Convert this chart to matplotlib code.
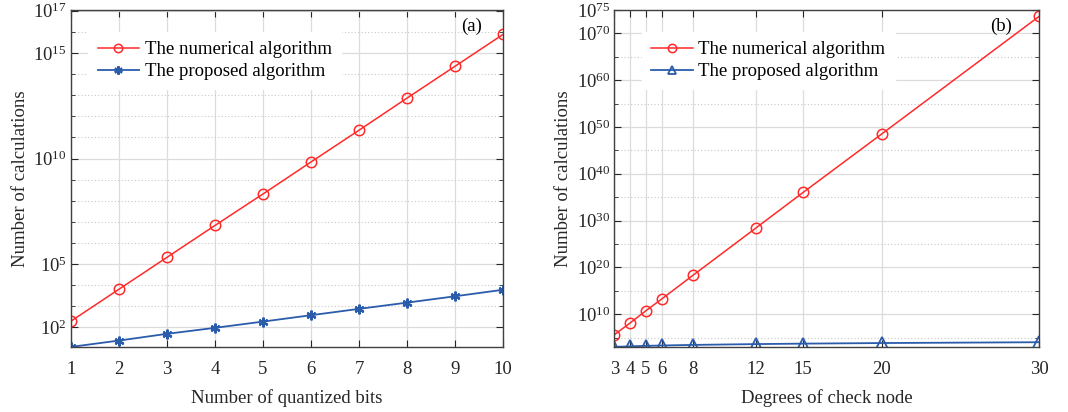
import matplotlib
matplotlib.use("Agg")
import matplotlib.pyplot as plt
import numpy as np
from matplotlib.ticker import FixedLocator, FixedFormatter, NullFormatter

plt.rcParams['font.family'] = ['Liberation Serif', 'DejaVu Serif']
plt.rcParams['mathtext.fontset'] = 'custom'
plt.rcParams['mathtext.rm'] = 'Liberation Serif'
plt.rcParams['mathtext.it'] = 'Liberation Serif:italic'

# (a) number of quantized bits
bits = [1, 2, 3, 4, 5, 6, 7, 8, 9, 10]
num_a = [2.0e2, 6.5e3, 2.1e5, 6.8e6, 2.1e8, 6.9e9, 2.2e11, 7.3e12, 2.35e14, 7.6e15]
prop_a = [12, 24, 50, 96, 190, 380, 760, 1500, 3000, 6100]

# (b) degrees of check node
deg = [3, 4, 5, 6, 8, 12, 15, 20, 30]
num_b = [10**5.6, 10**8.1, 10**10.7, 10**13.2, 10**18.3, 10**28.4, 10**36.0, 10**48.5, 10**73.6]
prop_b = [1000, 1330, 1670, 2000, 2670, 4000, 5000, 6700, 10000]

yt_a = [1e2, 1e5, 1e10, 1e15, 1e17]
yt_a_lab = ['10$^{2}$', '10$^{5}$', '10$^{10}$', '10$^{15}$', '10$^{17}$']
ymin_a = [10.0**k for k in range(1, 17) if k not in (2, 5, 10, 15)]
yt_b = [1e10, 1e20, 1e30, 1e40, 1e50, 1e60, 1e70, 1e75]
yt_b_lab = ['10$^{10}$', '10$^{20}$', '10$^{30}$', '10$^{40}$', '10$^{50}$', '10$^{60}$', '10$^{70}$', '10$^{75}$']
ymin_b = [10.0**k for k in range(5, 70, 10)]

RED = '#ff2a2a'
BLUE = '#2a5cab'
FS = 13.5

fig = plt.figure(figsize=(10.68, 4.12), dpi=100)
ax1 = fig.add_axes([0.0665, 0.158, 0.4045, 0.818])
ax2 = fig.add_axes([0.5752, 0.158, 0.3977, 0.818])


def style(ax, yt, ylab, ymn):
    ax.set_yscale('log')
    ax.yaxis.set_major_locator(FixedLocator(yt))
    ax.yaxis.set_major_formatter(FixedFormatter(ylab))
    ax.yaxis.set_minor_locator(FixedLocator(ymn))
    ax.yaxis.set_minor_formatter(NullFormatter())
    ax.grid(True, which='major', color='#dcdcdc', lw=0.9, ls='-')
    ax.grid(True, which='minor', axis='y', color='#c8c8c8', lw=0.8, ls=(0, (1, 2)))
    ax.set_axisbelow(True)
    ax.tick_params(which='both', direction='in', top=True, right=True,
                   labelsize=FS, colors='#262626')
    ax.tick_params(axis='x', pad=10)
    ax.tick_params(axis='y', pad=3)
    ax.tick_params(which='major', length=5, width=0.8)
    ax.tick_params(which='minor', length=3, width=0.6)
    for s in ax.spines.values():
        s.set_color('#404040')
        s.set_linewidth(1.0)
    ax.set_ylabel('Number of calculations', fontsize=FS, color='#262626', labelpad=3)


ax1.plot(bits, num_a, color=RED, lw=1.1, marker='o', ms=7.5, mfc='none', mec=RED, mew=1.1,
         label='The numerical algorithm')
ax1.plot(bits, prop_a, color=BLUE, lw=1.3, marker=(6, 2, 0), ms=7, mec=BLUE, mew=1.6,
         label='The proposed algorithm')
style(ax1, yt_a, yt_a_lab, ymin_a)
ax1.set_xlim(1, 10)
ax1.set_ylim(12, 1.1e17)
ax1.set_xticks(bits)
ax1.set_xlabel('Number of quantized bits', fontsize=FS, color='#262626', labelpad=8)
ax1.text(0.952, 0.95, '(a)', transform=ax1.transAxes, ha='right', va='center', fontsize=FS)

ax2.plot(deg, num_b, color=RED, lw=1.1, marker='o', ms=7.5, mfc='none', mec=RED, mew=1.1,
         label='The numerical algorithm')
ax2.plot(deg, prop_b, color=BLUE, lw=1.3, marker='^', ms=8, mfc='none', mec=BLUE, mew=1.3,
         label='The proposed algorithm')
style(ax2, yt_b, yt_b_lab, ymin_b)
ax2.set_xlim(3, 30)
ax2.set_ylim(1e3, 1e75)
ax2.set_xticks(deg)
ax2.set_xlabel('Degrees of check node', fontsize=FS, color='#262626', labelpad=8)
ax2.text(0.937, 0.95, '(b)', transform=ax2.transAxes, ha='right', va='center', fontsize=FS)

for ax, anc in ((ax1, (0.04, 0.935)), (ax2, (0.065, 0.935))):
    leg = ax.legend(loc='upper left', bbox_to_anchor=anc, fontsize=FS, frameon=True,
                    fancybox=False, edgecolor='white', framealpha=1.0, handlelength=2.2,
                    handletextpad=0.3, borderaxespad=0.0, borderpad=0.5, labelspacing=0.25)
    for h in leg.legend_handles:
        h.set_markersize(6)

fig.savefig('out.png', dpi=100)
